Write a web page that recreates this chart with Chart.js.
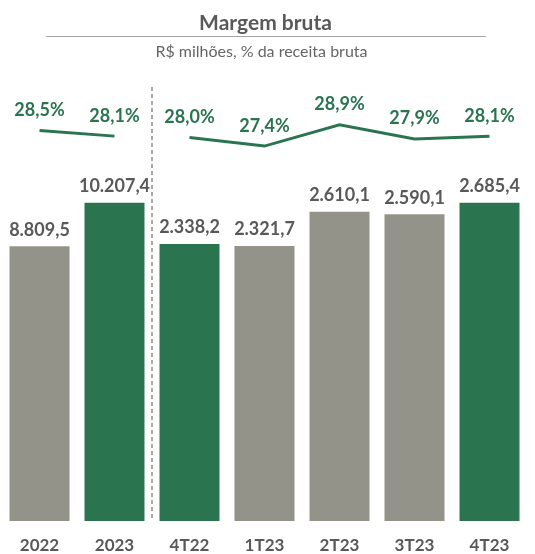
<!DOCTYPE html>
<html lang="pt-BR">
<head>
<meta charset="utf-8">
<title>Margem bruta</title>
<script src="https://cdn.jsdelivr.net/npm/chart.js@4"></script>
<style>
  html, body { margin: 0; padding: 0; background: #fff; }
  #wrap { position: relative; width: 535px; height: 554px; overflow: hidden; font-family: Lato, "Open Sans", sans-serif; }
  #chart { position: absolute; left: 0; top: 0; }
  .title { position: absolute; left: 0; width: 531px; top: 11px; text-align: center; font-weight: bold; font-size: 21px; line-height: 21px; color: #595959; }
  .rule { position: absolute; left: 46px; top: 36px; width: 440px; height: 1px; background: #a6a6a6; }
  .subtitle { position: absolute; left: 0; width: 523px; top: 43px; text-align: center; font-size: 16px; line-height: 16px; color: #666; }
</style>
</head>
<body>
<div id="wrap">
  <canvas id="chart" width="535" height="554"></canvas>
  <div class="title">Margem bruta</div>
  <div class="rule"></div>
  <div class="subtitle">R$ milhões, % da receita bruta</div>
</div>
<script>
// Data
const periods = ['2022', '2023', '4T22', '1T23', '2T23', '3T23', '4T23'];
const annualGross = [8809.5, 10207.4, null, null, null, null, null];
const quarterlyGross = [null, null, 2338.2, 2321.7, 2610.1, 2590.1, 2685.4];
const annualMargin = [28.5, 28.1, null, null, null, null, null];
const quarterlyMargin = [null, null, 28.0, 27.4, 28.9, 27.9, 28.1];
const highlighted = ['2023', '4T22', '4T23'];

const GREEN = '#2a7550';
const GRAY = '#93938a';
const TEXT = '#595959';
const FONT = 'Lato, "Open Sans", sans-serif';

// 8809.5 -> "8.809,5"
function fmt(v) {
    const [i, d] = v.toFixed(1).split('.');
    return i.replace(/\B(?=(\d{3})+(?!\d))/g, '.') + ',' + d;
}

const barColor = (c) => highlighted.includes(periods[c.dataIndex]) ? GREEN : GRAY;

const labelPlugin = {
    id: 'valueLabels',
    beforeDatasetsDraw(chart) {
        // dashed divider between annual and quarterly groups
        const x = chart.scales.x;
        const xPos = (x.getPixelForValue(1) + x.getPixelForValue(2)) / 2;
        const ctx = chart.ctx;
        ctx.save();
        ctx.strokeStyle = '#8c8c8c';
        ctx.lineWidth = 1.5;
        ctx.setLineDash([4, 3]);
        ctx.beginPath();
        ctx.moveTo(xPos, chart.chartArea.top + 2);
        ctx.lineTo(xPos, chart.chartArea.bottom);
        ctx.stroke();
        ctx.restore();
    },
    afterDatasetsDraw(chart) {
        const ctx = chart.ctx;
        ctx.save();
        ctx.font = 'bold 18px ' + FONT;
        ctx.textAlign = 'center';
        ctx.textBaseline = 'alphabetic';
        chart.data.datasets.forEach((ds, i) => {
            const meta = chart.getDatasetMeta(i);
            meta.data.forEach((el, j) => {
                const v = ds.data[j];
                if (v === null || v === undefined) return;
                if (ds.type === 'line') {
                    ctx.fillStyle = GREEN;
                    ctx.fillText(fmt(v) + '%', el.x, el.y - 14.5);
                } else {
                    ctx.fillStyle = TEXT;
                    ctx.fillText(fmt(v), el.x, el.y - 10.5);
                }
            });
        });
        ctx.restore();
    }
};

const lineStyle = {
    type: 'line',
    yAxisID: 'yPct',
    borderColor: GREEN,
    borderWidth: 3,
    pointRadius: 0,
    tension: 0,
    spanGaps: false,
    order: 0
};

const barStyle = {
    type: 'bar',
    backgroundColor: barColor,
    grouped: false,
    categoryPercentage: 1,
    barPercentage: 0.8,
    order: 1
};

new Chart(document.getElementById('chart'), {
    data: {
        labels: periods,
        datasets: [
            { ...lineStyle, label: 'Margem anual', data: annualMargin },
            { ...lineStyle, label: 'Margem trimestral', data: quarterlyMargin },
            { ...barStyle, label: 'Lucro bruto anual', data: annualGross, yAxisID: 'yYear' },
            { ...barStyle, label: 'Lucro bruto trimestral', data: quarterlyGross, yAxisID: 'yQuarter' }
        ]
    },
    options: {
        responsive: false,
        animation: false,
        layout: { padding: { top: 85, left: 2, right: 8, bottom: 0 } },
        plugins: {
            legend: { display: false },
            tooltip: { enabled: false }
        },
        scales: {
            x: {
                grid: { display: false, drawTicks: false },
                border: { display: false },
                ticks: {
                    color: TEXT,
                    padding: 16,
                    font: { family: FONT, size: 17, weight: 'bold', lineHeight: 1 }
                },
                afterFit(scale) { scale.height = 33; }
            },
            yYear: { display: false, min: 0, max: 13980 },
            yQuarter: { display: false, min: 0, max: 3680 },
            yPct: { display: false, min: 1.0, max: 31.7 }
        }
    },
    plugins: [labelPlugin]
});
</script>
</body>
</html>
